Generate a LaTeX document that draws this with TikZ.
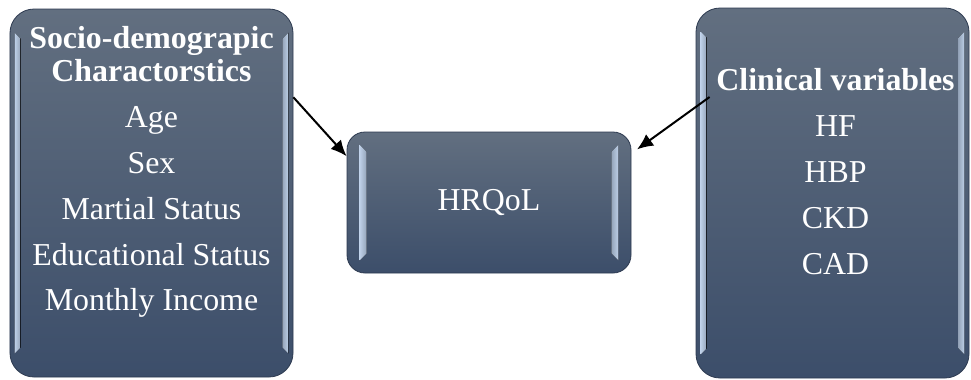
\documentclass[tikz,border=0pt]{standalone}
\usepackage{fontspec}
\setmainfont{Liberation Serif}
\usepackage{xcolor}
\usetikzlibrary{arrows.meta, positioning, calc}

\definecolor{slatetop}{RGB}{98,111,128}
\definecolor{slatebot}{RGB}{60,78,106}
\definecolor{bevel}{RGB}{190,208,232}

\begin{document}
\begin{tikzpicture}[
        x=1bp, y=-1bp,
        panel/.style={
            rounded corners=24bp,
            top color=slatetop,
            bottom color=slatebot,
            draw=slatebot!75!black,
            line width=0.8bp
        },
        paneltext/.style={
            text=white,
            align=center,
            inner sep=0pt,
            font=\fontsize{32}{46}\selectfont
        },
        bevelleft/.style={left color=bevel, right color=bevel!55!slatetop},
        bevelright/.style={left color=bevel!55!slatetop, right color=bevel},
        linkarrow/.style={-{Latex[length=16bp, width=14bp]}, line width=2bp}
    ]
        \useasboundingbox (0,0) rectangle (971,379);

        % the three panels
        \node[panel, minimum width=283bp, minimum height=368bp] (socio) at (151.5,193) {};
        \node[panel, minimum width=273bp, minimum height=370bp] (clinical) at (832.5,193) {};
        \node[panel, rounded corners=18bp, minimum width=284bp, minimum height=141bp,
            text=white, font=\fontsize{32}{46}\selectfont] (hrqol) at (489,202.5) {HRQoL};

        % bevelled side strips
        \fill[bevelleft] ([xshift=5bp, yshift=-24bp]socio.north west) -- ([xshift=11bp, yshift=-30bp]socio.north west)
            -- ([xshift=11bp, yshift=30bp]socio.south west) -- ([xshift=5bp, yshift=24bp]socio.south west) -- cycle;
        \fill[bevelright] ([xshift=-5bp, yshift=-24bp]socio.north east) -- ([xshift=-11bp, yshift=-30bp]socio.north east)
            -- ([xshift=-11bp, yshift=30bp]socio.south east) -- ([xshift=-5bp, yshift=24bp]socio.south east) -- cycle;
        \fill[bevelleft] ([xshift=5bp, yshift=-24bp]clinical.north west) -- ([xshift=11bp, yshift=-30bp]clinical.north west)
            -- ([xshift=11bp, yshift=30bp]clinical.south west) -- ([xshift=5bp, yshift=24bp]clinical.south west) -- cycle;
        \fill[bevelright] ([xshift=-5bp, yshift=-24bp]clinical.north east) -- ([xshift=-11bp, yshift=-30bp]clinical.north east)
            -- ([xshift=-11bp, yshift=30bp]clinical.south east) -- ([xshift=-5bp, yshift=24bp]clinical.south east) -- cycle;
        \fill[bevelleft] ([xshift=13bp, yshift=-13bp]hrqol.north west) -- ([xshift=20bp, yshift=-20bp]hrqol.north west)
            -- ([xshift=20bp, yshift=20bp]hrqol.south west) -- ([xshift=13bp, yshift=13bp]hrqol.south west) -- cycle;
        \fill[bevelright] ([xshift=-13bp, yshift=-13bp]hrqol.north east) -- ([xshift=-20bp, yshift=-20bp]hrqol.north east)
            -- ([xshift=-20bp, yshift=20bp]hrqol.south east) -- ([xshift=-13bp, yshift=13bp]hrqol.south east) -- cycle;

        \node[paneltext, anchor=north] (sociotext) at ($(socio.north)+(0,18)$) {
            \textbf{Socio-demograpic}\\[-13bp]
            \textbf{Charactorstics}\\
            Age\\
            Sex\\
            Martial Status\\
            Educational Status\\
            Monthly Income
        };

        \node[paneltext, anchor=north] (clinicaltext) at ($(clinical.north)+(3,61)$) {
            \textbf{Clinical variables}\\
            HF\\
            HBP\\
            CKD\\
            CAD
        };

        % links into the outcome
        \coordinate (clinicalout) at ($(clinical.west)+(14,-96)$);
        \draw[linkarrow] (socio.34) -- (hrqol.162);
        \draw[linkarrow, shorten >=7bp] (clinicalout) -- (hrqol.19);
    \end{tikzpicture}
\end{document}
